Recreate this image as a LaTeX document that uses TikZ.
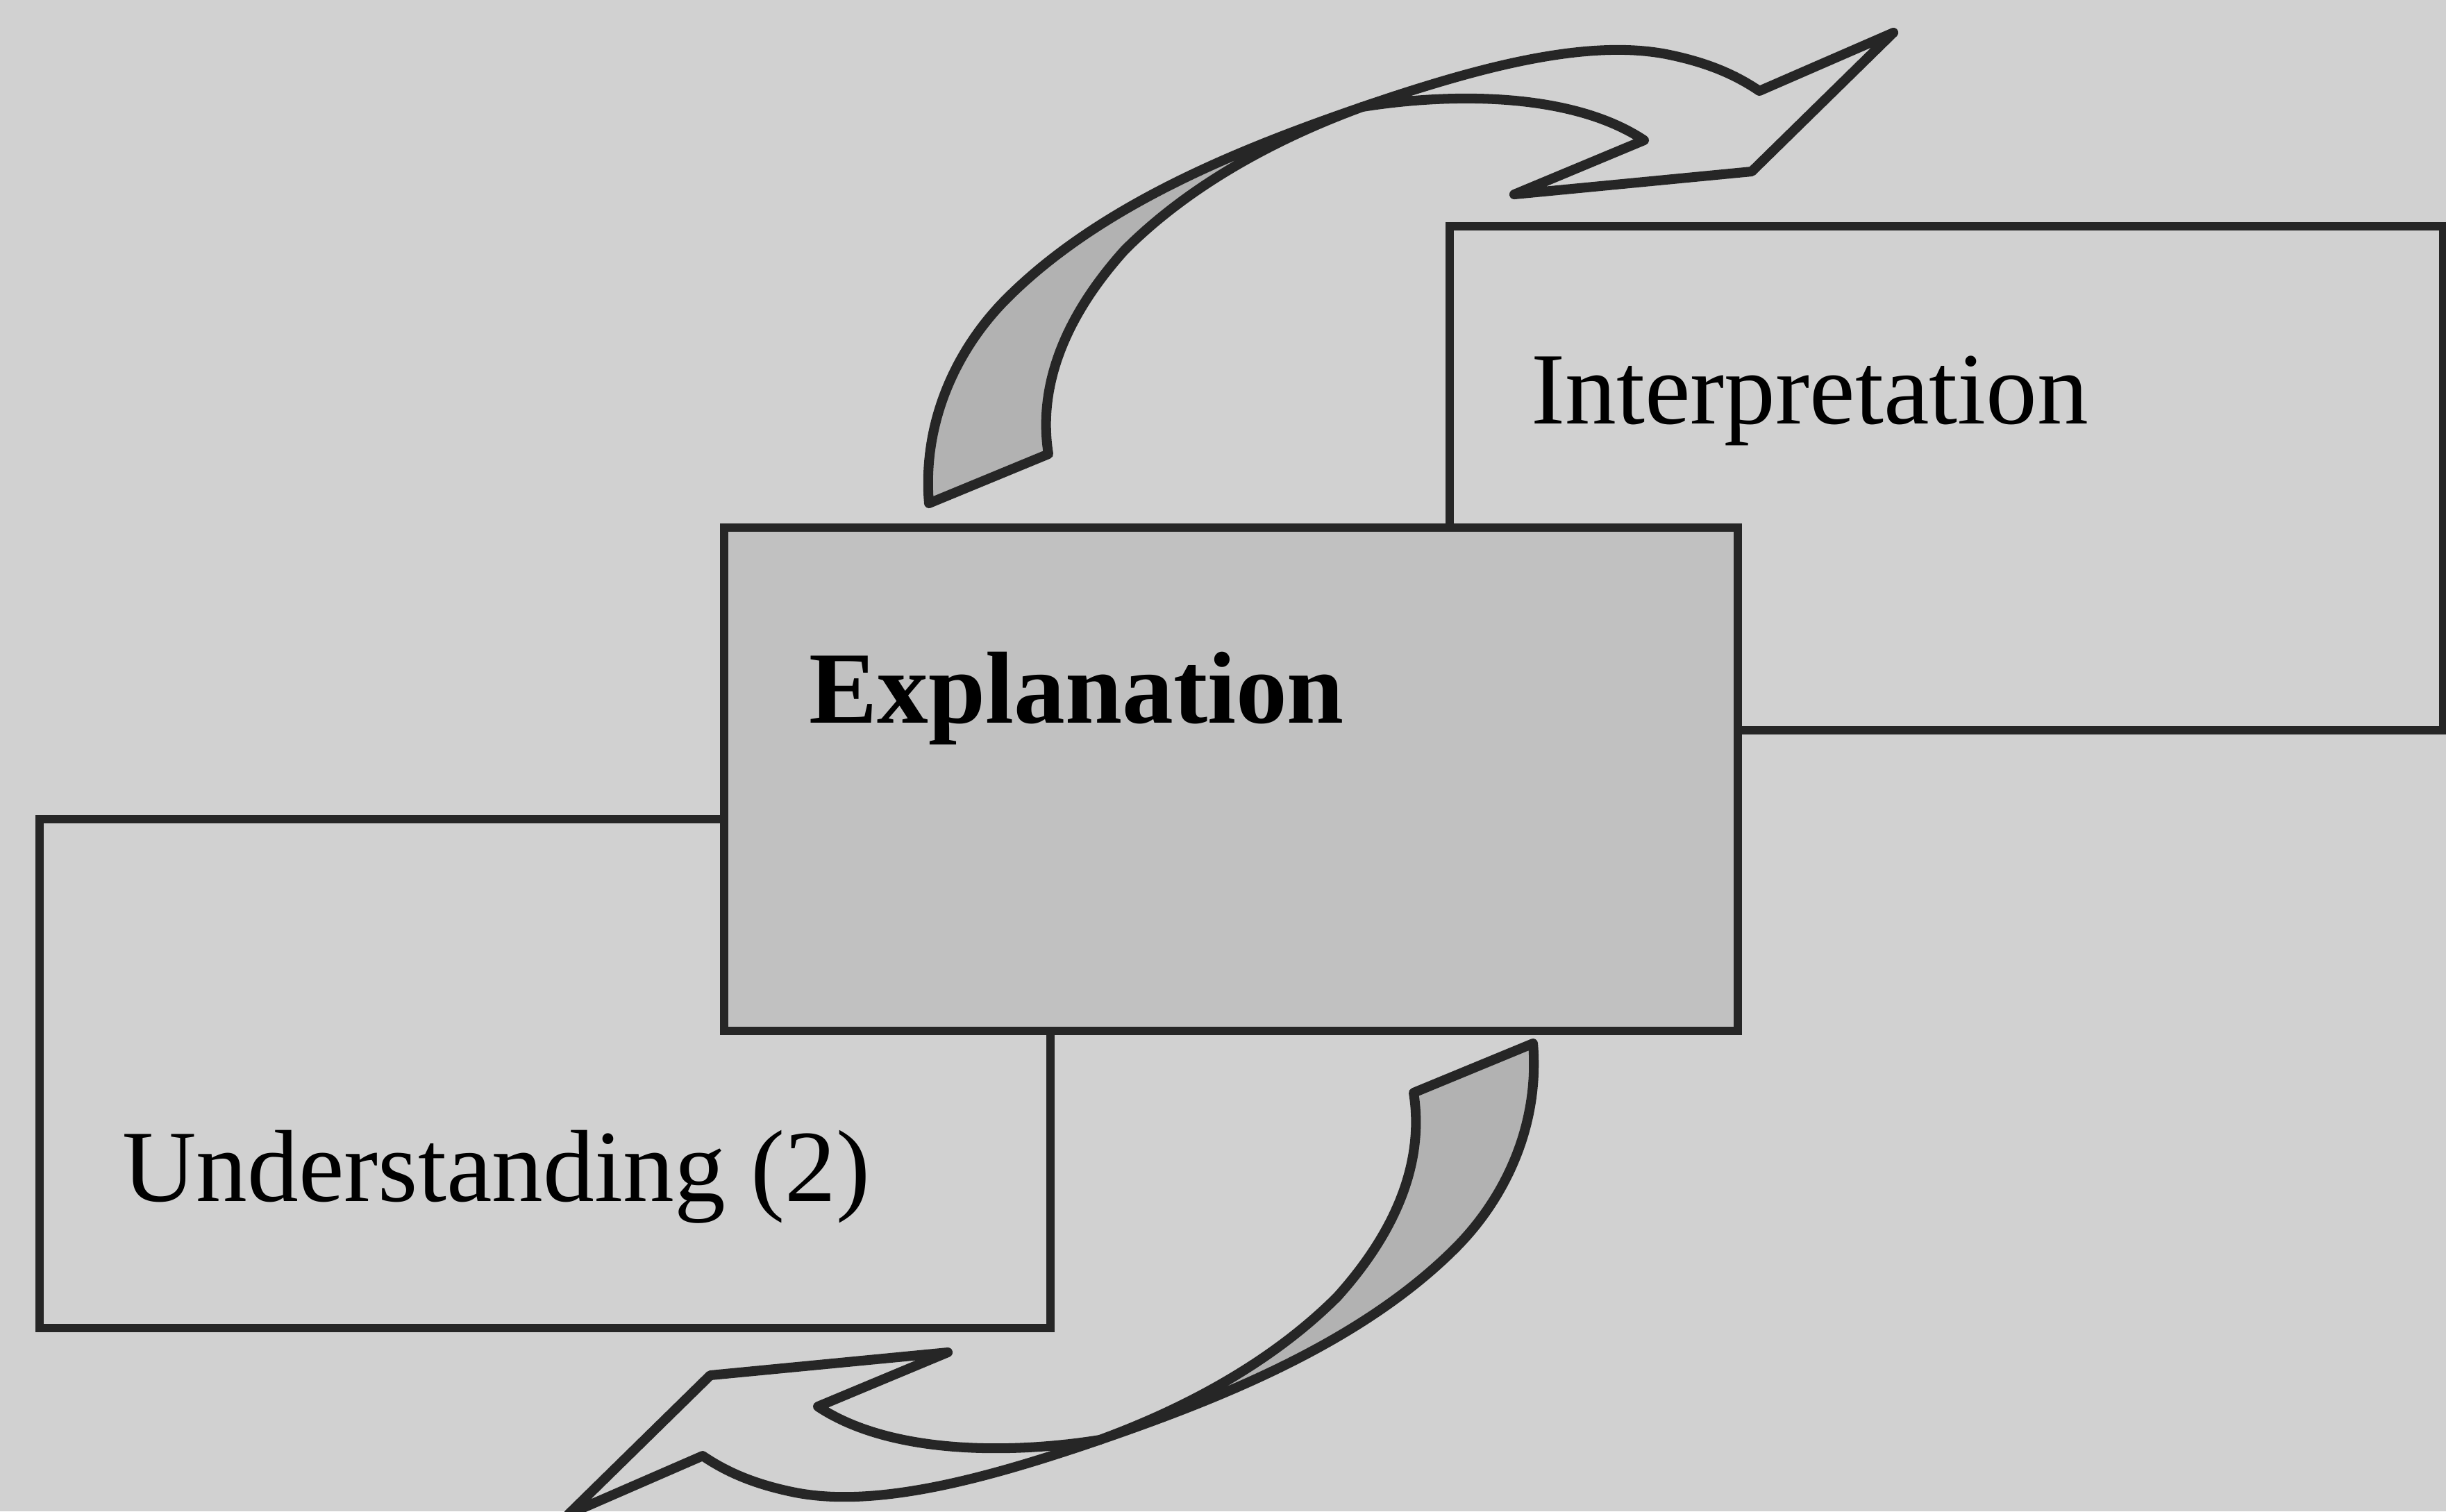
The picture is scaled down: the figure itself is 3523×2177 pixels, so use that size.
\documentclass[tikz,border=0pt]{standalone}
\usepackage{fontspec}
\setmainfont{Liberation Serif}
\usetikzlibrary{calc}

\definecolor{paper}{RGB}{209,209,209}
\definecolor{boxgray}{RGB}{193,193,193}
\definecolor{tailgray}{RGB}{178,178,178}

\tikzset{
	boxline/.style={draw=black!85, line width=1.7pt},
	arrowline/.style={draw=black!85, line width=2pt, line join=round},
	boxtext/.style={anchor=base west, inner sep=0pt, font=\fontsize{21pt}{25pt}\selectfont}
}

% one twisted curved arrow, drawn in pixel coordinates
\newcommand{\cyclearrow}{%
	%shaded tail
	\filldraw[arrowline, fill=tailgray]
		(1338,725) .. controls (1328,605) and (1380,500) .. (1450,430)
		.. controls (1590,290) and (1800,210) .. (1962,154)
		.. controls (1850,195) and (1720,260) .. (1620,360)
		.. controls (1530,460) and (1495,560) .. (1510,654)
		-- cycle;
	%head
	\filldraw[arrowline, fill=paper]
		(1962,154) .. controls (2120,100) and (2280,55) .. (2400,78)
		.. controls (2460,90) and (2500,108) .. (2534,131)
		-- (2727,47) -- (2523,247) -- (2181,280) -- (2368,202)
		.. controls (2260,130) and (2080,135) .. (1962,154)
		-- cycle;
}

\begin{document}
\begin{tikzpicture}[x=0.005cm, y=-0.005cm]
	\useasboundingbox (0,0) rectangle (3523,2177);
	\fill[paper] (0,0) rectangle (3523,2177);

	%boxes
	\draw[boxline] (2088,326) rectangle (3519,1052);	%Interpretation
	\draw[boxline] (57,1180) rectangle (1513,1913);		%Understanding
	\filldraw[boxline, fill=boxgray] (1043,760) rectangle (2503,1485);	%Explanation

	%labels
	\node[boxtext] (interp) at (2204,610)  {Interpretation};
	\node[boxtext] (expl)   at (1164,1041) {\bfseries Explanation};
	\node[boxtext] (under)  at (175,1730)  {Understanding (2)};

	%arrows
	\cyclearrow
	\begin{scope}[rotate around={180:(1773,1114)}]
		\cyclearrow
	\end{scope}
\end{tikzpicture}
\end{document}
